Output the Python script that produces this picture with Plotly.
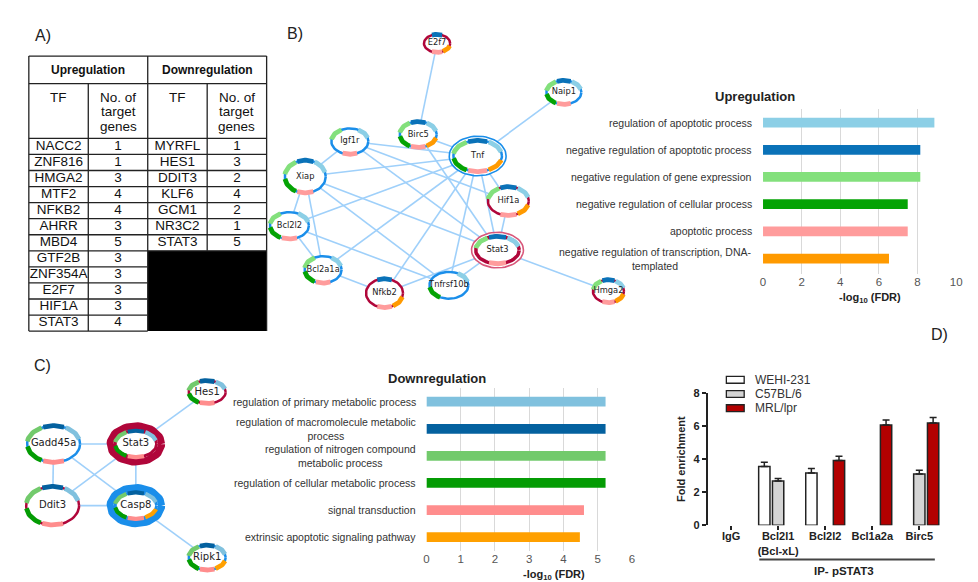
import numpy as np
import plotly.graph_objects as go

W, H = 978, 582

# ---------------- data ----------------
# Panel A: transcription factors
UP_TF = ["NACC2", "ZNF816", "HMGA2", "MTF2", "NFKB2", "AHRR", "MBD4",
         "GTF2B", "ZNF354A", "E2F7", "HIF1A", "STAT3"]
UP_N = [1, 1, 3, 4, 4, 3, 5, 3, 3, 3, 3, 4]
DOWN_TF = ["MYRFL", "HES1", "DDIT3", "KLF6", "GCM1", "NR3C2", "STAT3"]
DOWN_N = [1, 3, 2, 4, 2, 1, 5]

# GO enrichment (-log10 FDR)
UP_TERMS = ["regulation of apoptotic process",
            "negative regulation of apoptotic process",
            "negative regulation of gene expression",
            "negative regulation of cellular process",
            "apoptotic process",
            "negative regulation of transcription, DNA-<br>templated"]
UP_FDR = [8.87, 8.14, 8.14, 7.49, 7.49, 6.52]
DOWN_TERMS = ["regulation of primary metabolic process",
              "regulation of macromolecule metabolic<br>process",
              "regulation of nitrogen compound<br>metabolic process",
              "regulation of cellular metabolic process",
              "signal transduction",
              "extrinsic apoptotic signaling pathway"]
DOWN_FDR = [5.23, 5.23, 5.23, 5.23, 4.60, 4.48]

# Network B (upregulated genes): GO-term membership (1..6) and direction
B_TERMS = {"E2f7": [2, 5, 6], "Naip1": [1, 2, 3, 4, 5], "Birc5": [1, 2, 3, 4, 5, 6],
           "Igf1r": [1, 3, 5], "Tnf": [1, 2, 3, 4, 5, 6], "Xiap": [1, 2, 3, 4, 5],
           "Hif1a": [1, 2, 3, 5, 6], "Bcl2l2": [1, 3, 4, 5], "Stat3": [1, 2, 3, 5],
           "Bcl2a1a": [1, 3, 4, 5], "Nfkb2": [2, 5, 6], "Tnfrsf10b": [1, 4],
           "Hmga2": [1, 2, 3, 5, 6]}
B_DIR = {"E2f7": "r", "Naip1": "b", "Birc5": "b", "Igf1r": "b", "Tnf": "b", "Xiap": "b",
         "Hif1a": "r", "Bcl2l2": "b", "Stat3": "r", "Bcl2a1a": "b", "Nfkb2": "r",
         "Tnfrsf10b": "b", "Hmga2": "r"}
B_EDGES = [("E2f7", "Birc5"), ("Naip1", "Tnf"), ("Birc5", "Tnf"), ("Birc5", "Stat3"),
           ("Igf1r", "Xiap"), ("Igf1r", "Tnf"), ("Igf1r", "Hif1a"), ("Igf1r", "Stat3"),
           ("Xiap", "Tnf"), ("Xiap", "Bcl2l2"), ("Xiap", "Bcl2a1a"), ("Xiap", "Stat3"),
           ("Xiap", "Tnfrsf10b"), ("Tnf", "Bcl2l2"), ("Tnf", "Bcl2a1a"), ("Tnf", "Nfkb2"),
           ("Tnf", "Tnfrsf10b"), ("Tnf", "Stat3"), ("Tnf", "Hif1a"), ("Hif1a", "Stat3"),
           ("Stat3", "Hmga2"), ("Stat3", "Tnfrsf10b"), ("Stat3", "Nfkb2"),
           ("Bcl2l2", "Bcl2a1a"), ("Bcl2l2", "Tnfrsf10b"), ("Bcl2a1a", "Nfkb2")]

# Network C (downregulated genes)
C_TERMS = {"Hes1": [1, 2, 3, 4, 5], "Gadd45a": [1, 2, 3, 4, 5], "Stat3": [1, 2, 3, 4, 5],
           "Ddit3": [1, 2, 3, 4, 5], "Casp8": [1, 2, 3, 4, 5, 6], "Ripk1": [1, 2, 3, 4, 5, 6]}
C_DIR = {"Hes1": "r", "Gadd45a": "b", "Stat3": "r", "Ddit3": "r", "Casp8": "b", "Ripk1": "b"}
C_EDGES = [("Hes1", "Stat3"), ("Gadd45a", "Stat3"), ("Gadd45a", "Ddit3"), ("Gadd45a", "Casp8"),
           ("Stat3", "Ddit3"), ("Stat3", "Casp8"), ("Ddit3", "Casp8"), ("Casp8", "Ripk1")]

# Panel D: ChIP fold enrichment
D_GROUPS = ["IgG", "Bcl2l1<br>(Bcl-xL)", "Bcl2l2", "Bcl1a2a", "Birc5"]
D_SERIES = ["WEHI-231", "C57BL/6", "MRL/lpr"]
D_WEHI = [None, 3.56, 3.16, None, None]
D_WEHI_ERR = [None, 0.25, 0.28, None, None]
D_C57 = [None, 2.67, None, None, 3.10]
D_C57_ERR = [None, 0.16, None, None, 0.22]
D_MRL = [None, None, 3.91, 6.07, 6.19]
D_MRL_ERR = [None, None, 0.26, 0.29, 0.33]

# ---------------- layout / style (pixels) ----------------
B_POS = {"E2f7": (430, 30, 15.5, 11.5), "Naip1": (558, 80, 20, 14.5),
         "Birc5": (411, 123, 21, 15.5), "Igf1r": (342, 130, 21, 15.5),
         "Tnf": (471, 145, 29.5, 21), "Xiap": (297, 166, 23, 19),
         "Hif1a": (502, 191, 23, 17), "Bcl2l2": (281, 216, 22, 16),
         "Stat3": (491, 241, 27, 19), "Bcl2a1a": (315, 261, 21, 16),
         "Nfkb2": (377, 285, 21, 17), "Tnfrsf10b": (442, 277, 22, 16),
         "Hmga2": (603, 283, 18, 14)}
C_POS = {"Hes1": (198, 386, 21, 14), "Gadd45a": (43, 439, 29, 21),
         "Stat3": (126, 439, 29.5, 22), "Ddit3": (42, 502, 29, 22),
         "Casp8": (126, 502, 29.5, 22), "Ripk1": (198, 555, 21, 15)}
STYLE = {("B", "Tnf"): "halo", ("B", "Stat3"): "halo",
         ("C", "Stat3"): "thick", ("C", "Casp8"): "thick"}
TERM_COL = ["#8ccfe6", "#0a72b8", "#83e07c", "#04a304", "#ff9c9c", "#ff9a00"]
DOWN_COL = ["#80c1de", "#04619f", "#72ca6c", "#049c04", "#ff8d8d", "#ffa000"]
ARC = {1: (15, 63), 2: (67, 113), 3: (117, 172), 4: (188, 243), 5: (247, 293), 6: (297, 345)}
RED, BLUE, EDGE = "#b0063a", "#1a8eea", "#9fd0fa"
FONT = "Liberation Sans, Arial, sans-serif"
NFONT = "DejaVu Sans, sans-serif"

fig = go.Figure()
CAN = dict(xaxis="x", yaxis="y", hoverinfo="skip", showlegend=False)


def arc(cx, cy, rx, ry, a0, a1, n=28):
    t = np.radians(np.linspace(a0, a1, n))
    return list(cx + rx * np.cos(t)), list(cy - ry * np.sin(t))


# ---------------- Panel A: table ----------------
TX = [18, 78, 138, 198, 258]
T_TOP, T_H1, T_H2, ROW = 43, 71, 127, 16.4
t_bot = T_H2 + ROW * len(UP_TF)
dn_bot = T_H2 + ROW * len(DOWN_TF)
fig.add_trace(go.Scatter(x=[TX[2], TX[4], TX[4], TX[2], TX[2]],
                         y=[dn_bot, dn_bot, t_bot, t_bot, dn_bot], mode="lines",
                         fill="toself", fillcolor="black", line=dict(width=0), **CAN))
lx, ly = [], []


def seg(x0, y0, x1, y1):
    lx.extend([x0, x1, None]); ly.extend([y0, y1, None])


seg(TX[0], T_TOP, TX[4], T_TOP)
seg(TX[0], T_H1, TX[4], T_H1)
seg(TX[0], T_H2, TX[4], T_H2)
for i in range(1, len(UP_TF) + 1):
    seg(TX[0], T_H2 + ROW * i, TX[2], T_H2 + ROW * i)
for i in range(1, len(DOWN_TF) + 1):
    seg(TX[2], T_H2 + ROW * i, TX[4], T_H2 + ROW * i)
seg(TX[0], T_TOP, TX[0], t_bot)
seg(TX[1], T_H1, TX[1], t_bot)
seg(TX[2], T_TOP, TX[2], t_bot)
seg(TX[3], T_H1, TX[3], dn_bot)
seg(TX[4], T_TOP, TX[4], t_bot)
fig.add_trace(go.Scatter(x=lx, y=ly, mode="lines", line=dict(color="#222", width=1.3), **CAN))

rows_up = [T_H2 + ROW * (i + 0.5) for i in range(len(UP_TF))]
rows_dn = [T_H2 + ROW * (i + 0.5) for i in range(len(DOWN_TF))]
tfont = dict(family=FONT, size=13.5, color="#111")
for xs, ys, txt in [((TX[0] + TX[1]) / 2, rows_up, UP_TF), ((TX[1] + TX[2]) / 2, rows_up, UP_N),
                    ((TX[2] + TX[3]) / 2, rows_dn, DOWN_TF), ((TX[3] + TX[4]) / 2, rows_dn, DOWN_N)]:
    fig.add_trace(go.Scatter(x=[xs] * len(ys), y=ys, mode="text", text=[str(t) for t in txt],
                             textfont=tfont, textposition="middle center", **CAN))

ann = []


def A(x, y, text, size=12, bold=False, xanchor="center", yanchor="middle", family=FONT,
      color="#111", xref="x", yref="y", **kw):
    ann.append(dict(x=x, y=y, text=(f"<b>{text}</b>" if bold else text), xref=xref, yref=yref,
                    showarrow=False, xanchor=xanchor, yanchor=yanchor,
                    font=dict(family=family, size=size, color=color), **kw))


A((TX[0] + TX[2]) / 2, (T_TOP + T_H1) / 2, "Upregulation", 12, True)
A((TX[2] + TX[4]) / 2, (T_TOP + T_H1) / 2, "Downregulation", 12, True)
for c in (0, 2):
    A((TX[c] + TX[c + 1]) / 2, 85, "TF", 13.5)
    for k, w in enumerate(["No. of", "target", "genes"]):
        A((TX[c + 1] + TX[c + 2]) / 2, 85 + 15 * k, w, 13.5)

A(32, 22, "A)", 16, color="#222")
A(287, 20, "B)", 16, color="#222")
A(32, 359, "C)", 16, color="#222")
A(937, 327, "D)", 16, color="#222")


# ---------------- networks ----------------
def network(tag, terms, direc, edges, pos, cols, fsize):
    ex, ey = [], []
    for a, b in edges:
        ex += [pos[a][0], pos[b][0], None]; ey += [pos[a][1], pos[b][1], None]
    fig.add_trace(go.Scatter(x=ex, y=ey, mode="lines", line=dict(color=EDGE, width=1.6), **CAN))
    fx, fy = [], []
    rings = {}
    segs = {k: ([], []) for k in range(1, 7)}
    thick_segs = {k: ([], []) for k in range(1, 7)}
    for g, (cx, cy, rx, ry) in pos.items():
        st = STYLE.get((tag, g))
        col = RED if direc[g] == "r" else BLUE
        x, y = arc(cx, cy, rx - 1.5, ry - 1.5, 0, 360, 60)
        fx += x + [None]; fy += y + [None]

        def ring(r_x, r_y, c, w):
            x, y = arc(cx, cy, r_x, r_y, 0, 360, 60)
            rings.setdefault((c, w), ([], []))
            rings[(c, w)][0].extend(x + [None]); rings[(c, w)][1].extend(y + [None])

        if st == "thick":
            ring(rx - 3.5, ry - 3.5, col, 7)
            sr = (rx - 8.5, ry - 8.5)
            ring(sr[0], sr[1], col, 3)
            tgt = thick_segs
        elif st == "halo":
            ring(rx - 0.8, ry - 0.8, col if direc[g] == "b" else "#d9577a", 1.6)
            sr = (rx - 5, ry - 5)
            ring(sr[0], sr[1], col, 3.5 if direc[g] == "r" else 2.5)
            tgt = segs
        else:
            sr = (rx - 2.3, ry - 2.3)
            ring(sr[0], sr[1], col, 2.5)
            tgt = segs
        for t in terms[g]:
            x, y = arc(cx, cy, sr[0], sr[1], *ARC[t], 16)
            tgt[t][0].extend(x + [None]); tgt[t][1].extend(y + [None])
    fig.add_trace(go.Scatter(x=fx, y=fy, mode="lines", fill="toself", fillcolor="white",
                             line=dict(width=0), **CAN))
    for (c, w), (x, y) in rings.items():
        fig.add_trace(go.Scatter(x=x, y=y, mode="lines", line=dict(color=c, width=w), **CAN))
    for grp, w in ((segs, 4.8), (thick_segs, 4.2)):
        for t, (x, y) in grp.items():
            if x:
                fig.add_trace(go.Scatter(x=x, y=y, mode="lines",
                                         line=dict(color=cols[t - 1], width=w), **CAN))
    names = list(pos.keys())
    fig.add_trace(go.Scatter(x=[pos[n][0] for n in names], y=[pos[n][1] for n in names],
                             mode="text", text=names, textposition="middle center",
                             textfont=dict(family=NFONT, size=fsize, color="#222"), **CAN))


network("B", B_TERMS, B_DIR, B_EDGES, B_POS, TERM_COL, 8.3)
network("C", C_TERMS, C_DIR, C_EDGES, C_POS, DOWN_COL, 10)

# ---------------- Panel B bars ----------------
fig.add_trace(go.Bar(x=UP_FDR, y=UP_TERMS, orientation="h", width=0.36,
                     marker=dict(color=TERM_COL, line=dict(width=0)),
                     xaxis="x2", yaxis="y2", showlegend=False, hoverinfo="skip"))
for t in UP_TERMS:
    A(0, t, t, 10.5, xref="x2 domain", yref="y2", xanchor="right", xshift=-9, color="#333",
      align="center")
A(751, 84, "Upregulation", 13, True, color="#222")
A(867, 290, "-log<sub>10</sub> (FDR)", 11, True, color="#222")

# ---------------- Panel C bars ----------------
fig.add_trace(go.Bar(x=DOWN_FDR, y=DOWN_TERMS, orientation="h", width=0.36,
                     marker=dict(color=DOWN_COL, line=dict(width=0)),
                     xaxis="x3", yaxis="y3", showlegend=False, hoverinfo="skip"))
for t in DOWN_TERMS:
    A(0, t, t, 10.5, xref="x3 domain", yref="y3", xanchor="right", xshift=-8, color="#333",
      align="center")
A(430, 372, "Downregulation", 13, True, color="#222")
A(548, 573, "-log<sub>10</sub> (FDR)", 11, True, color="#222")

# ---------------- Panel D ----------------
for name, vals, err, fc in [("WEHI-231", D_WEHI, D_WEHI_ERR, "white"),
                            ("C57BL/6", D_C57, D_C57_ERR, "#d4d4d4"),
                            ("MRL/lpr", D_MRL, D_MRL_ERR, "#b30000")]:
    fig.add_trace(go.Bar(name=name, x=D_GROUPS, y=vals,
                         marker=dict(color=fc, line=dict(color="#222", width=1.5)),
                         error_y=dict(type="data", array=err, arrayminus=[0] * len(err),
                                      symmetric=False, color="#222", thickness=1.5, width=3.5),
                         xaxis="x4", yaxis="y4", showlegend=False, hoverinfo="skip"))

shapes = []
for k, (name, fc) in enumerate(zip(D_SERIES, ["white", "#d4d4d4", "#b30000"])):
    yc = 373.5 + 14.5 * k
    shapes.append(dict(type="rect", xref="paper", yref="paper", x0=722 / W, x1=740 / W,
                       y0=1 - (yc + 3.5) / H, y1=1 - (yc - 3.5) / H, fillcolor=fc,
                       line=dict(color="#222", width=1.3)))
    A(749, yc, name, 12, xanchor="left", color="#333")
shapes.append(dict(type="line", xref="x4", yref="paper", x0=0.6, x1=4.33,
                   y0=1 - 557 / H, y1=1 - 557 / H, line=dict(color="#444", width=2)))
A(841, 569, "IP- pSTAT3", 11.5, True, color="#222")


def dom(a, b, n):
    return [a / n, b / n]


fig.update_layout(
    width=W, height=H, margin=dict(l=0, r=0, t=0, b=0), autosize=False,
    paper_bgcolor="white", plot_bgcolor="rgba(0,0,0,0)", hovermode=False,
    barmode="group", bargap=0.12, bargroupgap=0.18,
    xaxis=dict(domain=[0, 1], range=[0, W], visible=False, fixedrange=True),
    yaxis=dict(domain=[0, 1], range=[H, 0], visible=False, fixedrange=True),
    xaxis2=dict(domain=dom(759, 954, W), anchor="y2", range=[0, 10], dtick=2,
                showgrid=True, gridcolor="#d9d9d9", gridwidth=1, zeroline=False, showline=False,
                tickfont=dict(family=FONT, size=11.5, color="#555")),
    yaxis2=dict(domain=[1 - 265 / H, 1 - 97 / H], anchor="x2", type="category",
                categoryorder="array", categoryarray=UP_TERMS, autorange="reversed",
                showticklabels=False, showgrid=False, zeroline=False),
    xaxis3=dict(domain=dom(419.3, 626.7, W), anchor="y3", range=[0, 6], dtick=1,
                showgrid=True, gridcolor="#d9d9d9", gridwidth=1, zeroline=False, showline=False,
                tickfont=dict(family=FONT, size=11.5, color="#555")),
    yaxis3=dict(domain=[1 - 548 / H, 1 - 382 / H], anchor="x3", type="category",
                categoryorder="array", categoryarray=DOWN_TERMS, autorange="reversed",
                showticklabels=False, showgrid=False, zeroline=False),
    xaxis4=dict(domain=dom(703, 940.5, W), anchor="y4", type="category",
                categoryorder="array", categoryarray=D_GROUPS, range=[-0.5, 4.5],
                showline=False, showgrid=False, zeroline=False, ticks="outside", ticklen=4,
                tickwidth=1.5, tickcolor="#222", ticklabelstandoff=-3,
                tickfont=dict(family=FONT, size=11, color="#222", weight="bold")),
    yaxis4=dict(domain=[1 - 522 / H, 1 - 387 / H], anchor="x4", range=[0, 8], dtick=2,
                showline=True, linecolor="#222", linewidth=1.5, ticks="outside", ticklen=4,
                tickwidth=1.5, tickcolor="#222", showgrid=False, zeroline=False,
                tickfont=dict(family=FONT, size=11, color="#222", weight="bold"),
                title=dict(text="<b>Fold enrichment</b>", standoff=6,
                           font=dict(family=FONT, size=11, color="#222"))),
    annotations=ann, shapes=shapes,
)

fig.write_html("out.html")
